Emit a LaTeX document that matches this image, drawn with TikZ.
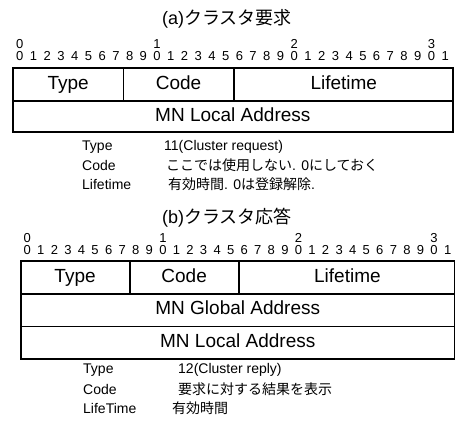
\documentclass[tikz,border=0pt]{standalone}
\usepackage{fontspec}
\setmainfont{Liberation Sans}
\newfontfamily\jp{Noto Sans CJK JP}
\usetikzlibrary{positioning}

\begin{document}
\begin{tikzpicture}[x=1pt,y=-1pt,
  field/.style={draw,line width=0.6pt,minimum height=32pt,inner sep=0pt,text height=13.6pt,text depth=4pt,font=\fontsize{19}{22}\selectfont},
  frame/.style={line width=1.8pt},
  bitnum/.style={inner sep=0pt,text height=9.4pt,text depth=0pt,font=\fontsize{13}{14}\selectfont},
  caption/.style={inner sep=0pt,font=\fontsize{18}{20}\selectfont},
  legend/.style={inner sep=0pt,anchor=west,font=\fontsize{14}{16}\selectfont}]
\useasboundingbox (0,0) rectangle (455,421);

% (a)
\node[caption] (titleA) at (227,19) {(a){\jp クラスタ要求}};
\foreach \i in {0,...,31} {
  \pgfmathtruncatemacro\d{mod(\i,10)}
  \node[bitnum] (abit\i) at ({13+13.72*(\i+0.5)},56) {\d};
}
\foreach \t [evaluate=\t as \k using int(10*\t)] in {0,1,2,3}
  \node[bitnum,above=2.6pt of abit\k.north,anchor=south] (aten\t) {\t};
\node[field,minimum width=8*13.72pt,anchor=north west] (aType) at (13,68) {Type};
\node[field,minimum width=8*13.72pt,right=0pt of aType] (aCode) {Code};
\node[field,minimum width=16*13.72pt,right=0pt of aCode] (aLife) {Lifetime};
\node[field,minimum width=32*13.72pt,minimum height=31pt,anchor=north west] (aLocal) at (aType.south west) {MN Local Address};
\draw[frame] (aType.north west) rectangle (aLocal.south east);

\node[legend] (aTypeL) at (82,147) {Type};
\node[legend] (aCodeL) at (82,165) {Code};
\node[legend] (aLifeL) at (82,184) {Lifetime};
\node[legend] (aTypeV) at (164,147) {11(Cluster request)};
\node[legend] (aCodeV) at (166,165) {{\jp ここでは使用しない}. 0{\jp にしておく}};
\node[legend] (aLifeV) at (168,184) {{\jp 有効時間}. 0{\jp は登録解除}.};

% (b)
\node[caption] (titleB) at (227,218) {(b){\jp クラスタ応答}};
\foreach \i in {0,...,31} {
  \pgfmathtruncatemacro\d{mod(\i,10)}
  \node[bitnum] (bbit\i) at ({20.5+13.56*(\i+0.5)},250) {\d};
}
\foreach \t [evaluate=\t as \k using int(10*\t)] in {0,1,2,3}
  \node[bitnum,above=2.6pt of bbit\k.north,anchor=south] (bten\t) {\t};
\node[field,minimum width=8*13.56pt,anchor=north west] (bType) at (20.5,261) {Type};
\node[field,minimum width=8*13.56pt,right=0pt of bType] (bCode) {Code};
\node[field,minimum width=16*13.56pt,right=0pt of bCode] (bLife) {Lifetime};
\node[field,minimum width=32*13.56pt,anchor=north west] (bGlobal) at (bType.south west) {MN Global Address};
\node[field,minimum width=32*13.56pt,anchor=north west] (bLocal) at (bGlobal.south west) {MN Local Address};
\draw[frame] (bType.north west) rectangle (bLocal.south east);

\node[legend] (bTypeL) at (83,370) {Type};
\node[legend] (bCodeL) at (83,389) {Code};
\node[legend] (bLifeL) at (83,408) {LifeTime};
\node[legend] (bTypeV) at (178,370) {12(Cluster reply)};
\node[legend] (bCodeV) at (178,389) {\jp 要求に対する結果を表示};
\node[legend] (bLifeV) at (172,408) {\jp 有効時間};
\end{tikzpicture}
\end{document}
